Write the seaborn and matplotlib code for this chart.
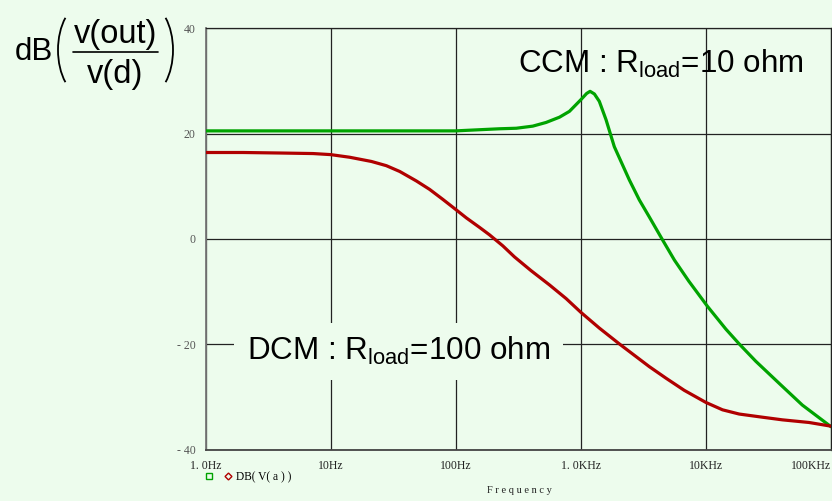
import matplotlib
matplotlib.use("Agg")
import numpy as np
import pandas as pd
import seaborn as sns
import matplotlib.pyplot as plt
from matplotlib.lines import Line2D
from matplotlib.patches import Arc
from matplotlib.legend_handler import HandlerTuple

# values (Hz, dB)
ccm_freq = [1, 3, 10, 30, 100, 122, 224, 305, 413, 528, 676, 811, 1000, 1114, 1186, 1284,
            1406, 1592, 1853, 2443, 2937, 3524, 4509, 5600, 7300, 10310, 14450, 18450,
            25070, 39800, 59000, 100000]
ccm_db = [20.5, 20.5, 20.5, 20.5, 20.5, 20.6, 20.9, 21.0, 21.4, 22.1, 23.1, 24.2, 26.4, 27.6,
          28.0, 27.5, 26.1, 22.6, 17.5, 11.2, 7.4, 4.2, -0.2, -4.0, -8.0, -12.8, -17.1, -19.9,
          -23.2, -27.7, -31.5, -35.6]

dcm_freq = [1, 2, 4, 7.25, 10, 14.2, 21.2, 27.9, 35.7, 48.5, 61.9, 79, 100, 121.6, 155, 186,
            238, 295, 400, 561, 763, 1000, 1407, 2033, 2763, 3524, 4797, 6710, 10000, 13580,
            18450, 28300, 40850, 66700, 100000]
dcm_db = [16.4, 16.4, 16.3, 16.2, 16.0, 15.5, 14.7, 13.9, 12.8, 11.0, 9.4, 7.5, 5.6, 4.0, 2.2,
          0.8, -1.3, -3.4, -6.0, -8.7, -11.3, -13.9, -16.9, -19.9, -22.3, -24.2, -26.4, -28.7,
          -31.0, -32.4, -33.2, -33.8, -34.3, -34.8, -35.5]

x_ticks = [1, 10, 100, 1000, 10000, 100000]
x_labels = ["1. 0Hz", "10Hz", "100Hz", "1. 0KHz", "10KHz", "100KHz"]
y_ticks = [-40, -20, 0, 20, 40]
y_labels = ["- 40", "- 20", "0", "20", "40"]

bg = "#edfced"
green = "#00a300"
red = "#b00000"

df = pd.concat([
    pd.DataFrame({"freq": ccm_freq, "db": ccm_db, "mode": "CCM"}),
    pd.DataFrame({"freq": dcm_freq, "db": dcm_db, "mode": "DCM"}),
])

sns.set_style("white")
plt.rcParams["mathtext.fontset"] = "custom"
plt.rcParams["mathtext.rm"] = "Liberation Sans"
plt.rcParams["mathtext.it"] = "Liberation Sans:italic"
plt.rcParams["font.family"] = ["Liberation Sans", "DejaVu Sans"]
plt.rcParams["text.color"] = "black"

fig = plt.figure(figsize=(8.32, 5.01), dpi=100, facecolor=bg)
ax = fig.add_axes([0.247, 0.102, 0.7518, 0.842])
ax.set_facecolor(bg)

sns.lineplot(data=df, x="freq", y="db", hue="mode", palette={"CCM": green, "DCM": red},
             estimator=None, sort=False, lw=2.3, legend=False, ax=ax, zorder=3)

ax.set_xscale("log")
ax.set_xlim(1, 1e5)
ax.set_ylim(-40, 40)
ax.set_xticks(x_ticks)
ax.set_xticklabels(x_labels, family="Liberation Serif", fontsize=8.5, color="#222")
ax.get_xticklabels()[-1].set_ha("right")
ax.xaxis.set_minor_locator(matplotlib.ticker.NullLocator())
ax.set_yticks(y_ticks)
ax.set_yticklabels(y_labels, family="Liberation Serif", fontsize=8.5, color="#555")
ax.tick_params(axis="both", direction="out", length=5, width=1, color="#222", pad=2)
ax.grid(True, color="#222", lw=0.9)
ax.set_xlabel("")
ax.set_ylabel("")
for s in ["top", "right"]:
    ax.spines[s].set_color("#222")
    ax.spines[s].set_linewidth(0.9)
ax.spines["left"].set_color("#777")
ax.spines["left"].set_linewidth(1.3)
ax.spines["bottom"].set_color("#444")
ax.spines["bottom"].set_linewidth(1.3)

ax.text(312, 31.5, r"CCM : R$_{\mathrm{load}}$=10 ohm", fontsize=22.6, va="baseline", zorder=5)
ax.text(2.14, -23, r"DCM : R$_{\mathrm{load}}$=100 ohm", fontsize=22.6, va="baseline", zorder=5,
        bbox=dict(boxstyle="square,pad=0.4", fc=bg, ec="none"))

# y-axis label dB( v(out) / v(d) ), drawn in pixel space
lab = fig.add_axes([0, 0, 1, 1], zorder=-1)
lab.set_xlim(0, 832)
lab.set_ylim(501, 0)
lab.axis("off")
lab.text(15, 60, "dB", fontsize=22.5, va="baseline", ha="left")
lab.text(115.5, 43, "v(out)", fontsize=23.5, va="baseline", ha="center")
lab.text(115.5, 83, "v(d)", fontsize=23.5, va="baseline", ha="center")
lab.plot([73, 158], [51.5, 51.5], color="black", lw=1.2)
lab.add_patch(Arc((84, 50), 52, 92, theta1=120, theta2=240, color="black", lw=1.3))
lab.add_patch(Arc((147, 50), 52, 92, theta1=-60, theta2=60, color="black", lw=1.3))

fig.text(0.624, 0.02, "F r e q u e n c y", family="Liberation Serif", fontsize=7.5,
         ha="center", va="center", color="#222")

h1 = Line2D([], [], ls="none", marker="s", ms=4, mfc="none", mec=green, mew=1)
h2 = Line2D([], [], ls="none", marker="D", ms=3.5, mfc="none", mec=red, mew=1)
fig.legend([(h1, h2)], ["DB( V( a ) )"], handler_map={tuple: HandlerTuple(ndivide=None, pad=1.2)},
           loc="center left", bbox_to_anchor=(0.249, 0.048), frameon=False,
           prop={"family": "Liberation Serif", "size": 8.3}, handlelength=2.0,
           handletextpad=0.5, borderpad=0, borderaxespad=0)

fig.savefig("out.png", dpi=100, facecolor=bg)
